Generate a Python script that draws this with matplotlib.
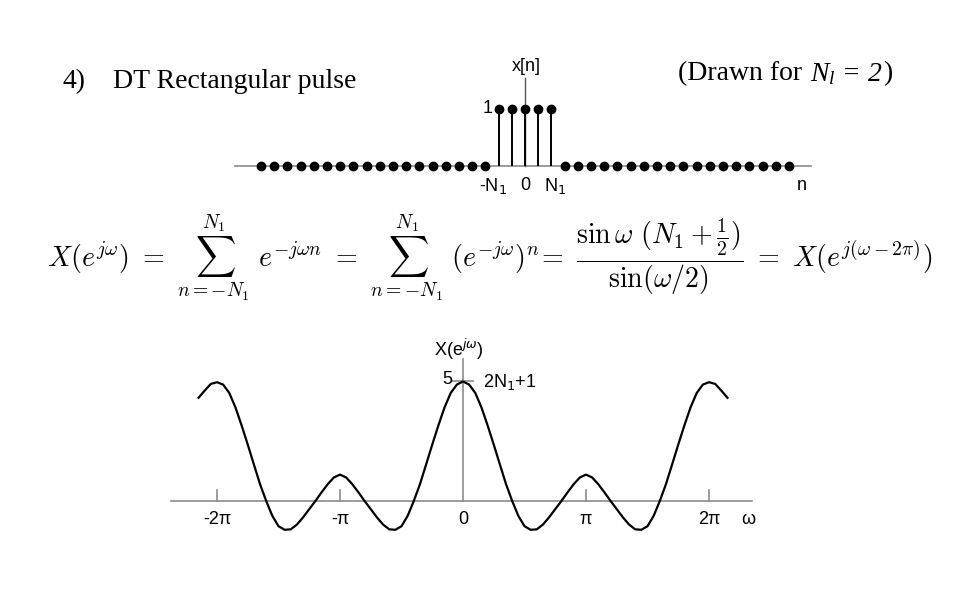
import numpy as np
import matplotlib
matplotlib.use("Agg")
import matplotlib.pyplot as plt

plt.rcParams['font.family'] = ['Liberation Sans', 'DejaVu Sans']
plt.rcParams['mathtext.fontset'] = 'dejavusans'
plt.rcParams['mathtext.rm'] = 'Liberation Serif'
plt.rcParams['mathtext.it'] = 'Liberation Serif:italic'

W, H = 960, 600

# x[n] rectangular pulse, N1 = 2
n_vals = list(range(-20, 21))
x_vals = [1 if abs(k) <= 2 else 0 for k in n_vals]

# X(e^jw), w in units of pi
w_pi = [-2.15, -2.10, -2.05, -2.00, -1.95, -1.90, -1.85, -1.80, -1.75, -1.70,
        -1.65, -1.60, -1.55, -1.50, -1.45, -1.40, -1.35, -1.30, -1.25, -1.20,
        -1.15, -1.10, -1.05, -1.00, -0.95, -0.90, -0.85, -0.80, -0.75, -0.70,
        -0.65, -0.60, -0.55, -0.50, -0.45, -0.40, -0.35, -0.30, -0.25, -0.20,
        -0.15, -0.10, -0.05, 0.00, 0.05, 0.10, 0.15, 0.20, 0.25, 0.30,
        0.35, 0.40, 0.45, 0.50, 0.55, 0.60, 0.65, 0.70, 0.75, 0.80,
        0.85, 0.90, 0.95, 1.00, 1.05, 1.10, 1.15, 1.20, 1.25, 1.30,
        1.35, 1.40, 1.45, 1.50, 1.55, 1.60, 1.65, 1.70, 1.75, 1.80,
        1.85, 1.90, 1.95, 2.00, 2.05, 2.10, 2.15]
X_vals = [4.30, 4.60, 4.88, 4.95, 4.85, 4.50, 3.90, 3.15, 2.35, 1.52,
          0.70, 0.00, -0.62, -1.05, -1.20, -1.18, -0.98, -0.68, -0.34, 0.00,
          0.36, 0.70, 0.98, 1.10, 0.98, 0.70, 0.36, 0.00, -0.34, -0.68,
          -0.98, -1.18, -1.20, -1.05, -0.62, 0.00, 0.70, 1.52, 2.35, 3.15,
          3.90, 4.50, 4.85, 4.98, 4.85, 4.50, 3.90, 3.15, 2.35, 1.52,
          0.70, 0.00, -0.62, -1.05, -1.20, -1.18, -0.98, -0.68, -0.34, 0.00,
          0.36, 0.70, 0.98, 1.10, 0.98, 0.70, 0.36, 0.00, -0.34, -0.68,
          -0.98, -1.18, -1.20, -1.05, -0.62, 0.00, 0.70, 1.52, 2.35, 3.15,
          3.90, 4.50, 4.85, 4.95, 4.88, 4.60, 4.30]
tick_pos = [-2, -1, 0, 1, 2]
tick_lab = ['-2π', '-π', '0', 'π', '2π']

fig = plt.figure(figsize=(9.6, 6), dpi=100)
fig.patch.set_facecolor('white')


def make_ax(xl, xr, yt, yb, x0, sx, y0, sy):
    # axes box in pixels, data origin (x0, y0) in pixels, scale px per unit
    ax = fig.add_axes([xl / W, 1 - yb / H, (xr - xl) / W, (yb - yt) / H])
    ax.set_xlim((xl - x0) / sx, (xr - x0) / sx)
    ax.set_ylim((y0 - yb) / sy, (y0 - yt) / sy)
    ax.axis('off')
    return ax


def ftext(x, y, s, **kw):
    fig.text(x / W, 1 - y / H, s, **kw)


grey = '#8c8c8c'

# --- header ---
ftext(62, 82, '4)', family='Liberation Serif', fontsize=20, va='center')
ftext(113, 82, 'DT Rectangular pulse', family='Liberation Serif', fontsize=20,
      va='center')
ftext(678, 74, '(Drawn for', family='Liberation Serif', fontsize=20,
      va='center')
ftext(810, 74, r'$N_l$ = 2', family='Liberation Serif', fontsize=20,
      fontstyle='italic', va='center', math_fontfamily='custom')
ftext(883, 74, ')', family='Liberation Serif', fontsize=20, va='center',
      ha='left')

# --- stem plot ---
ax1 = make_ax(220, 830, 55, 200, 525, 13.2, 166, 57)
ax1.plot([-22.0, 21.7], [0, 0], color=grey, lw=1.2, zorder=1)
ax1.plot([0, 0], [0, 1.55], color='#555555', lw=1.0, zorder=1)
stem_n = [k for k, v in zip(n_vals, x_vals) if v != 0]
ax1.vlines(stem_n, 0, 1, color='black', lw=1.4, zorder=2)
ax1.plot(n_vals, x_vals, 'o', color='black', ms=6, zorder=3)
ax1.text(0.1, 1.75, 'x[n]', ha='center', va='center', fontsize=13)
ax1.text(-2.8, 1.0, '1', ha='center', va='center', fontsize=13)
ax1.text(-2.4, -0.35, r'-N$_1$', ha='center', va='center', fontsize=13)
ax1.text(0, -0.35, '0', ha='center', va='center', fontsize=13)
ax1.text(2.3, -0.35, r'N$_1$', ha='center', va='center', fontsize=13)
ax1.text(21.0, -0.35, 'n', ha='center', va='center', fontsize=13)

# --- equation ---
eq = (r'$X(e^{j\omega})\ =\ \sum_{n=-N_1}^{N_1}\ e^{-j\omega n}\ =\ '
      r'\sum_{n=-N_1}^{N_1}\ (e^{-j\omega})^n\!=\ '
      r'\dfrac{\sin\omega\ (N_1+\frac{1}{2})}{\sin(\omega/2)}\ =\ '
      r'X(e^{j(\omega-2\pi)})$')
ftext(47, 258, eq, fontsize=20.2, va='center', ha='left', math_fontfamily='cm')

# --- spectrum plot ---
ax2 = make_ax(160, 770, 335, 560, 463, 123, 501, 24)
ax2.plot([-2.375, 2.35], [0, 0], color=grey, lw=1.2, zorder=1)
ax2.plot([0, 0], [0, 5.9], color=grey, lw=1.2, zorder=1)
ax2.plot([-0.09, 0.08], [5, 5], color=grey, lw=1.2, zorder=1)
for t in tick_pos:
    if t != 0:
        ax2.plot([t, t], [0, 0.45], color=grey, lw=1.2, zorder=1)
ax2.plot(w_pi, X_vals, color='black', lw=1.6, zorder=3)
for t, lab in zip(tick_pos, tick_lab):
    ax2.text(t, -0.75, lab, ha='center', va='center', fontsize=13)
ax2.text(2.32, -0.75, 'ω', ha='center', va='center', fontsize=13)
ax2.text(-0.09, 5.05, '5', ha='right', va='center', fontsize=13)
ax2.text(0.16, 4.95, r'2N$_1$+1', ha='left', va='center', fontsize=13)
ax2.text(-0.03, 6.3, r'X(e$^{j\omega}$)', ha='center', va='center',
         fontsize=13)

fig.savefig('out.png', dpi=100, facecolor='white')
